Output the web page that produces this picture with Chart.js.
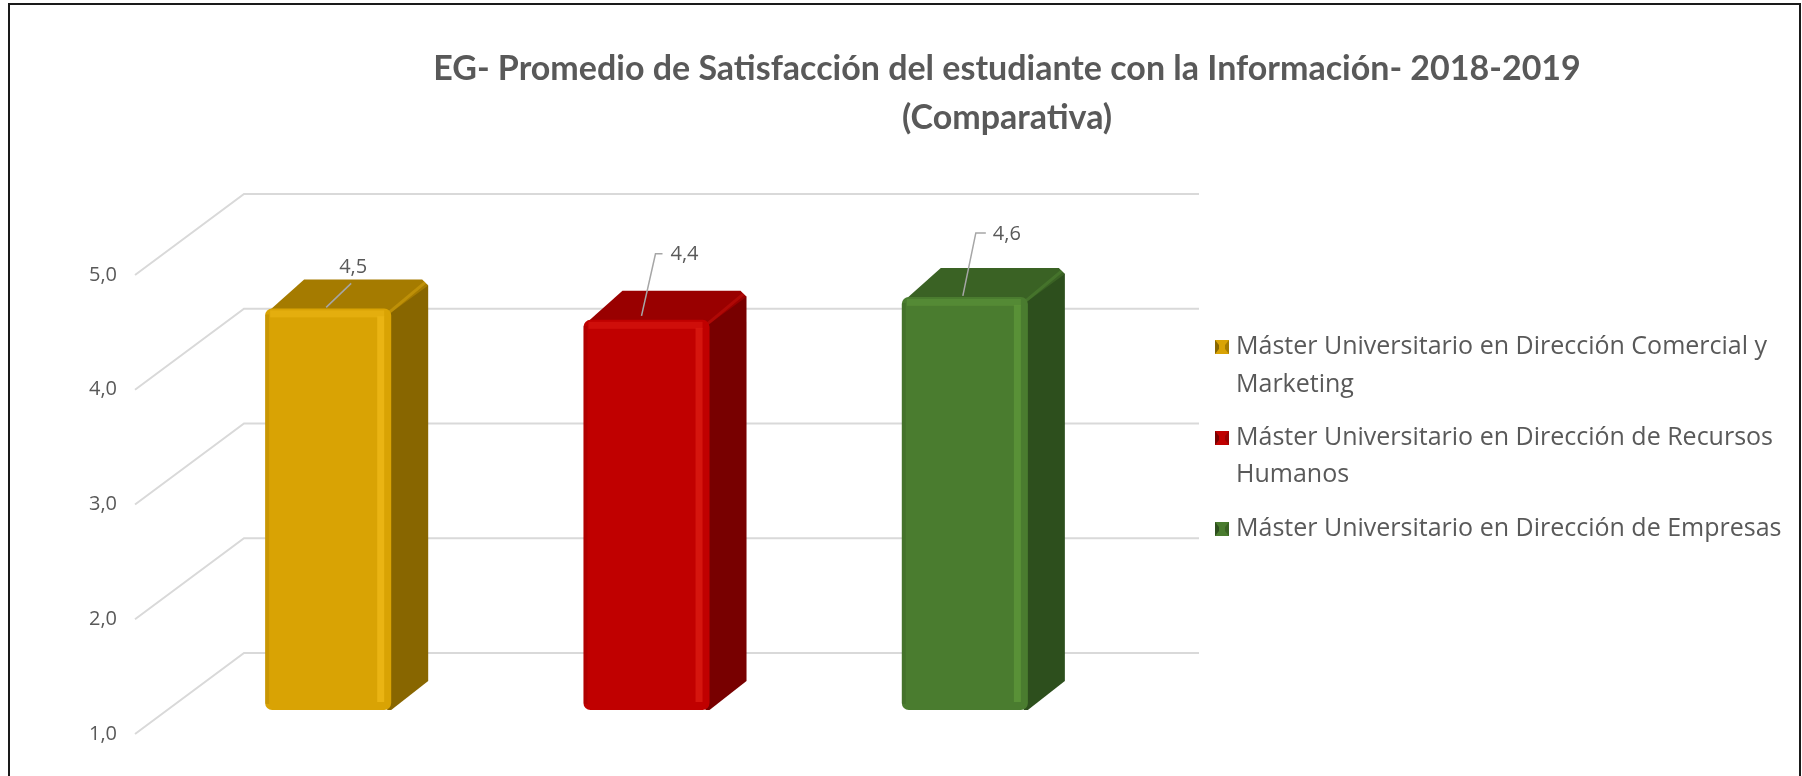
<!DOCTYPE html>
<html>
<head>
<meta charset="utf-8">
<script src="https://cdn.jsdelivr.net/npm/chart.js@4/dist/chart.umd.min.js"></script>
<style>
  html, body { margin: 0; padding: 0; background: #fff; }
  canvas { display: block; }
</style>
</head>
<body>
<canvas id="myChart" width="1802" height="776"></canvas>
<script>
// Title lines
var titleLines = ["EG- Promedio de Satisfacción del estudiante con la Información- 2018-2019", "(Comparativa)"];
// One series per master (legend text, wrapped as in the original)
var seriesNames = [
  ["Máster Universitario en Dirección Comercial y", "Marketing"],
  ["Máster Universitario en Dirección de Recursos", "Humanos"],
  ["Máster Universitario en Dirección de Empresas"]
];
var seriesValues = [4.5, 4.4, 4.6];
var valueLabels = ["4,5", "4,4", "4,6"];
// y-axis
var yTicks = [1, 2, 3, 4, 5];
var yTickLabels = ["1,0", "2,0", "3,0", "4,0", "5,0"];

// colours: front, light, top, side
var palette = [
  { front: "#D9A304", light: "#EDB818", top: "#A57B00", side: "#886600" },
  { front: "#C00000", light: "#DA1A12", top: "#990000", side: "#780000" },
  { front: "#4A7C2F", light: "#5C963A", top: "#3A6224", side: "#2D4F1D" }
];

// 3D look
var barDepth = { dx: 37, dy: -29 };
var frontPlane = { dx: -34, dy: 24 };
var backWall = { dx: 75, dy: -57 };
var gridColor = "#D9D9D9";
var textColor = "#595959";
// hand placed data labels: [text dx, text dy] from the bar's front top centre, and leader points
var labelOffsets = [[25, -41], [38, -66], [42, -63]];
var leaders = [
  [[23, -25], [-2, -1]],
  [[16, -66], [9, -66], [-5, -4]],
  [[21, -64], [11, -64], [-2, -1]]
];

function poly(c, pts, fill) {
  c.beginPath();
  c.moveTo(pts[0][0], pts[0][1]);
  for (var i = 1; i < pts.length; i++) c.lineTo(pts[i][0], pts[i][1]);
  c.closePath();
  c.fillStyle = fill;
  c.fill();
}

var threeD = {
  id: "threeD",
  beforeDraw: function (chart) {
    var c = chart.ctx;
    c.save();
    // frame
    c.strokeStyle = "#1a1a1a";
    c.lineWidth = 2;
    c.beginPath();
    c.moveTo(9, 800); c.lineTo(9, 4); c.lineTo(1800, 4); c.lineTo(1800, 800);
    c.stroke();
    // title
    c.fillStyle = textColor;
    c.font = "bold 34px Lato";
    c.textAlign = "center";
    c.textBaseline = "middle";
    c.fillText(titleLines[0], 1007, 69);
    c.fillText(titleLines[1], 1007, 118);
    // legend
    c.font = "25px 'Open Sans'";
    c.textAlign = "left";
    var rowY = [[347, 385], [438, 475], [529]];
    chart.data.datasets.forEach(function (ds, i) {
      var p = palette[i];
      var y0 = rowY[i][0];
      c.fillStyle = p.front;
      c.fillRect(1215, y0 - 7, 14, 14);
      poly(c, [[1215, y0 - 7], [1219, y0 - 2], [1219, y0 + 2], [1215, y0 + 7]], p.side);
      poly(c, [[1229, y0 - 7], [1225, y0 - 2], [1225, y0 + 2], [1229, y0 + 7]], p.top);
      c.fillStyle = textColor;
      seriesNames[i].forEach(function (line, k) {
        c.fillText(line, 1236, rowY[i][k]);
      });
    });
    c.restore();
  },
  beforeDatasetsDraw: function (chart) {
    var c = chart.ctx;
    var y = chart.scales.y;
    var area = chart.chartArea;
    c.save();
    // floor diagonals and back wall lines
    c.strokeStyle = gridColor;
    c.lineWidth = 2;
    yTicks.forEach(function (v) {
      var py = y.getPixelForValue(v);
      c.beginPath();
      c.moveTo(area.left + frontPlane.dx, py + frontPlane.dy);
      c.lineTo(area.left + backWall.dx, py + backWall.dy);
      c.lineTo(area.right + backWall.dx, py + backWall.dy);
      c.stroke();
    });
    // top and side faces of the bars
    chart.data.datasets.forEach(function (ds, i) {
      var p = palette[i];
      chart.getDatasetMeta(i).data.forEach(function (bar) {
        var l = bar.x - bar.width / 2, r = bar.x + bar.width / 2;
        var t = bar.y, b = bar.base;
        var dx = barDepth.dx, dy = barDepth.dy;
        poly(c, [[r - 4, t + 2], [r + dx - 6, t + dy + 1], [r + dx, t + dy + 6], [r + dx, b + dy], [r, b], [r - 4, b]], p.side);
        poly(c, [[l + 2, t + 4], [l + dx + 2, t + dy], [r + dx - 6, t + dy], [r + dx, t + dy + 6], [r, t + 4]], p.top);
        // light bevel where the side meets the top
        c.strokeStyle = p.light;
        c.globalAlpha = 0.35;
        c.lineWidth = 3;
        c.beginPath();
        c.moveTo(r - 2, t + 4);
        c.lineTo(r + dx - 3, t + dy + 3);
        c.stroke();
        c.globalAlpha = 1;
      });
    });
    c.restore();
  },
  afterDatasetsDraw: function (chart) {
    var c = chart.ctx;
    c.save();
    chart.data.datasets.forEach(function (ds, i) {
      var p = palette[i];
      chart.getDatasetMeta(i).data.forEach(function (bar) {
        var l = bar.x - bar.width / 2, r = bar.x + bar.width / 2;
        var t = bar.y, b = bar.base;
        // shading strips on the front face
        c.fillStyle = "rgba(0,0,0,0.08)";
        c.fillRect(l, t + 6, 4, b - t - 12);
        c.fillStyle = p.light;
        c.globalAlpha = 0.8;
        c.fillRect(r - 14, t + 8, 7, b - t - 16);
        c.globalAlpha = 0.55;
        c.fillRect(l + 5, t + 2, bar.width - 12, 7);
        c.globalAlpha = 1;
        // leader line and value
        var cx = bar.x, cy = t;
        var pts = leaders[i];
        c.strokeStyle = "#A6A6A6";
        c.lineWidth = 1.5;
        c.beginPath();
        c.moveTo(cx + pts[0][0], cy + pts[0][1]);
        for (var k = 1; k < pts.length; k++) c.lineTo(cx + pts[k][0], cy + pts[k][1]);
        c.stroke();
        c.fillStyle = textColor;
        c.font = "20px 'Open Sans'";
        c.textAlign = "center";
        c.textBaseline = "middle";
        c.fillText(valueLabels[i], cx + labelOffsets[i][0], cy + labelOffsets[i][1]);
      });
    });
    c.restore();
  }
};

var ctx = document.getElementById("myChart");
var myChart = new Chart(ctx, {
  type: "bar",
  data: {
    labels: [""],
    datasets: seriesValues.map(function (v, i) {
      return {
        label: seriesNames[i].join(" "),
        data: [v],
        base: 1,
        backgroundColor: palette[i].front,
        borderRadius: 7,
        borderSkipped: false,
        barPercentage: 0.396,
        categoryPercentage: 1
      };
    })
  },
  options: {
    responsive: false,
    animation: false,
    layout: { padding: { left: 0, top: 251, right: 678, bottom: 66 } },
    plugins: {
      legend: { display: false },
      title: { display: false },
      tooltip: { enabled: false }
    },
    scales: {
      x: { display: false },
      y: {
        min: 1,
        max: 5,
        afterFit: function (s) { s.width = 169; },
        border: { display: false },
        grid: { display: false, drawTicks: false },
        ticks: {
          stepSize: 1,
          padding: 52,
          labelOffset: 24,
          color: textColor,
          font: { family: "Open Sans", size: 20 },
          callback: function (v) { return yTickLabels[yTicks.indexOf(v)]; }
        }
      }
    }
  },
  plugins: [threeD]
});
</script>
</body>
</html>
